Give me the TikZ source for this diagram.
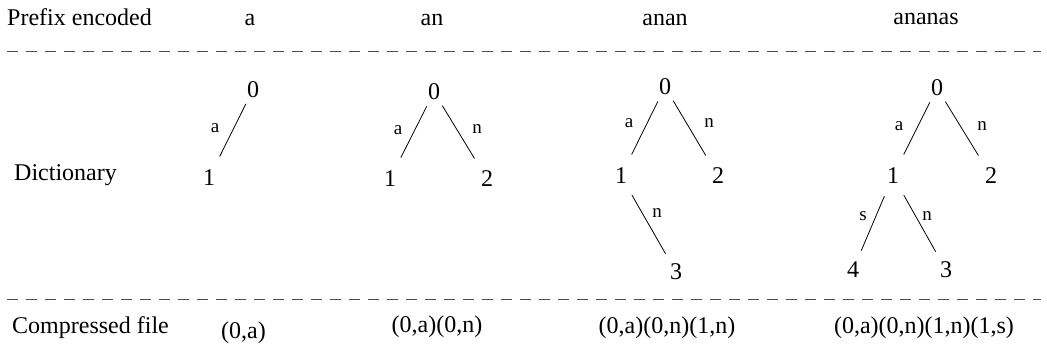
\documentclass[tikz,border=0pt]{standalone}
\usepackage{fontspec}
\setmainfont{Liberation Serif}
\begin{document}
\begin{tikzpicture}[x=1pt,y=-1pt,
  txt/.style={inner sep=0pt,anchor=base,font=\fontsize{24}{28}\selectfont},
  txtw/.style={inner sep=0pt,anchor=base west,font=\fontsize{24}{28}\selectfont},
  num/.style={inner sep=0pt,anchor=center,font=\fontsize{24}{28}\selectfont},
  lbl/.style={inner sep=0pt,anchor=center,font=\fontsize{19}{22}\selectfont},
  edgeA/.style={draw=black,line width=0.8pt,shorten <=16pt,shorten >=24pt},
  edgeB/.style={draw=black,line width=0.8pt,shorten <=22pt,shorten >=21pt},
  sep/.style={draw=black!70,line width=0.9pt,dash pattern=on 11pt off 8pt}]
\useasboundingbox (0,0) rectangle (1047,350);

% header row
\node[txtw] (hdr) at (7,26) {Prefix encoded};
\node[txt] (h1) at (250,26) {a};
\node[txt] (h2) at (432,26) {an};
\node[txt] (h3) at (665,26) {anan};
\node[txt] (h4) at (926,24.5) {ananas};

% separators
\coordinate (s1l) at (7,51);
\coordinate (s1r) at (1041,51);
\coordinate (s2l) at (7,299);
\coordinate (s2r) at (1041,299);
\draw[sep] (s1l) -- (s1r);
\draw[sep] (s2l) -- (s2r);

% dictionary label
\node[txtw] (dict) at (14,180) {Dictionary};

% tree 1
\node[num] (a0) at (253,89.5) {0};
\node[num] (a1) at (209,178) {1};
\draw[edgeA] (a0.center) -- (a1.center);
\node[lbl] (a0a) at (215,128) {a};

% tree 2
\node[num] (b0) at (434,92) {0};
\node[num] (b1) at (390,179) {1};
\node[num] (b2) at (487,179) {2};
\draw[edgeA] (b0.center) -- (b1.center);
\draw[edgeA] (b0.center) -- (b2.center);
\node[lbl] (b0a) at (398,130) {a};
\node[lbl] (b0n) at (477,129) {n};

% tree 3
\node[num] (c0) at (665,87) {0};
\node[num] (c1) at (621,176) {1};
\node[num] (c2) at (718,176) {2};
\node[num] (c3) at (676,272) {3};
\draw[edgeA] (c0.center) -- (c1.center);
\draw[edgeA] (c0.center) -- (c2.center);
\draw[edgeB] (c1.center) -- (c3.center);
\node[lbl] (c0a) at (629,123) {a};
\node[lbl] (c0n) at (709,123) {n};
\node[lbl] (c1n) at (657,213) {n};

% tree 4
\node[num] (d0) at (937,88) {0};
\node[num] (d1) at (893,176) {1};
\node[num] (d2) at (991,176) {2};
\node[num] (d4) at (853,270) {4};
\node[num] (d3) at (946,270) {3};
\draw[edgeA] (d0.center) -- (d1.center);
\draw[edgeA] (d0.center) -- (d2.center);
\draw[edgeB] (d1.center) -- (d4.center);
\draw[edgeB] (d1.center) -- (d3.center);
\node[lbl] (d0a) at (899,126) {a};
\node[lbl] (d0n) at (982,126) {n};
\node[lbl] (d1s) at (863,216) {s};
\node[lbl] (d1n) at (927,216) {n};

% compressed row
\node[txtw] (comp) at (12,333) {Compressed file};
\node[txt] (f1) at (243.5,338) {(0,a)};
\node[txt] (f2) at (437,332) {(0,a)(0,n)};
\node[txt] (f3) at (667,333) {(0,a)(0,n)(1,n)};
\node[txt] (f4) at (924,333) {(0,a)(0,n)(1,n)(1,s)};
\end{tikzpicture}
\end{document}
